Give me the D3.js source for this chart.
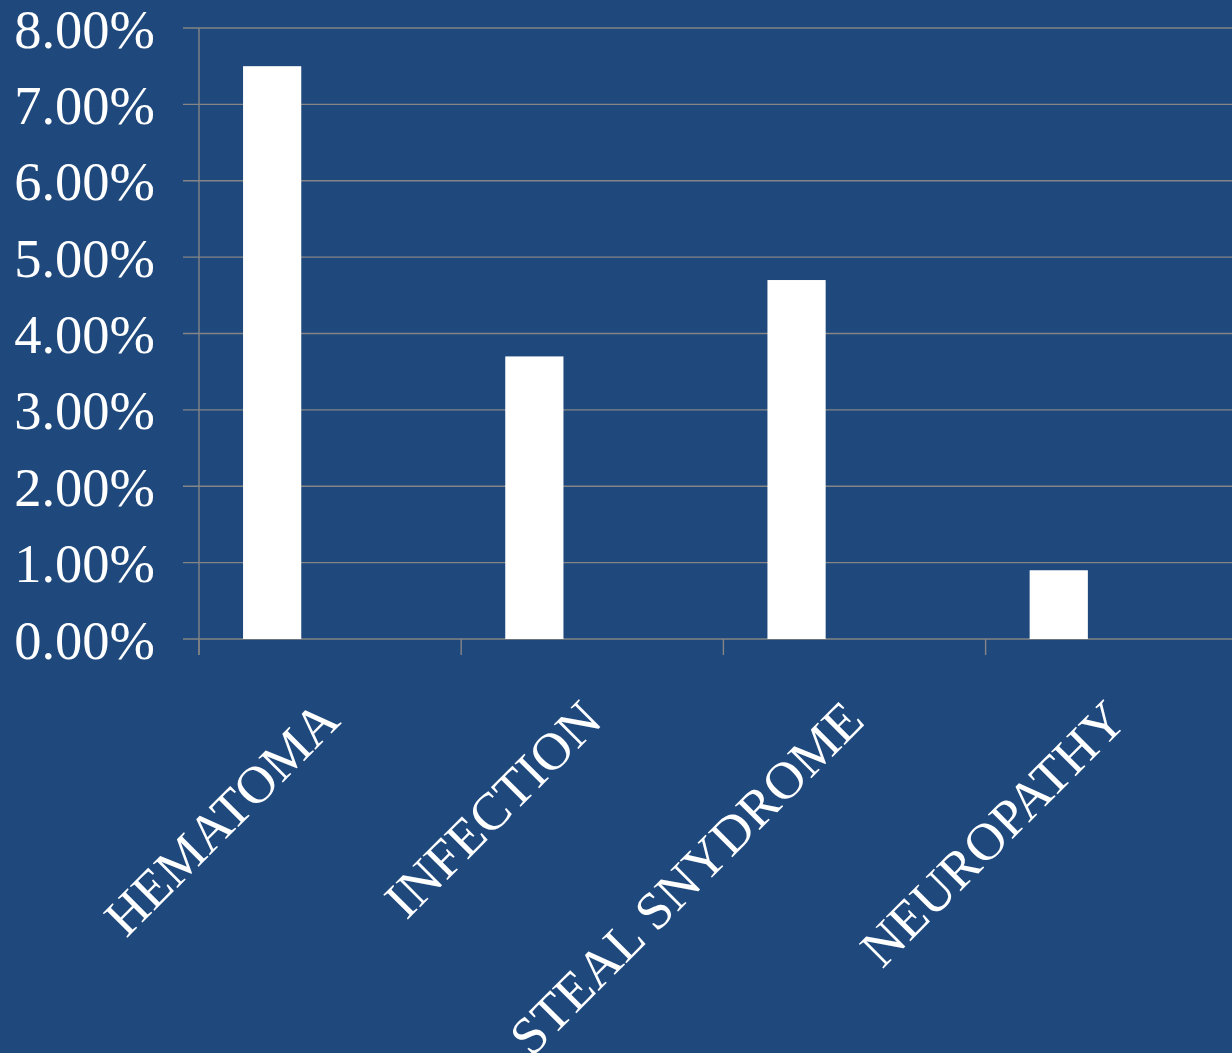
<!DOCTYPE html>
<html>
<head>
<meta charset="utf-8">
<script src="https://cdn.jsdelivr.net/npm/d3@7"></script>
<style>
  html, body { margin: 0; padding: 0; background: #1F497D; }
  svg { display: block; }
</style>
</head>
<body>
<svg id="chart" width="1232" height="1053"></svg>
<script>
const categories = ["HEMATOMA", "INFECTION", "STEAL SNYDROME", "NEUROPATHY"];
const values = [0.075, 0.037, 0.047, 0.009];
const yTicks = [0, 0.01, 0.02, 0.03, 0.04, 0.05, 0.06, 0.07, 0.08];

const W = 1232, H = 1053;
const svg = d3.select("#chart");
svg.append("rect").attr("width", W).attr("height", H).attr("fill", "#1F497D");

const left = 199, bandW = 262.2;
const x = d3.scaleBand().domain(categories).range([left, left + bandW * categories.length]).padding(0);
const y = d3.scaleLinear().domain([0, 0.08]).range([639, 28]);

const gridColor = "#858585";
const font = "'Liberation Serif', 'Times New Roman', serif";

// gridlines
svg.append("g").selectAll("line").data(yTicks).join("line")
  .attr("x1", left - 16).attr("x2", W)
  .attr("y1", d => y(d)).attr("y2", d => y(d))
  .attr("stroke", gridColor).attr("stroke-width", 1.4);

// y axis line
svg.append("line").attr("x1", left).attr("x2", left)
  .attr("y1", y(0.08)).attr("y2", y(0) + 16)
  .attr("stroke", gridColor).attr("stroke-width", 1.4);

// category tick marks at band boundaries
const bounds = categories.map(c => x(c)).concat([x(categories[categories.length - 1]) + x.bandwidth()]);
svg.append("g").selectAll("line").data(bounds).join("line")
  .attr("x1", d => d).attr("x2", d => d)
  .attr("y1", y(0)).attr("y2", y(0) + 16)
  .attr("stroke", gridColor).attr("stroke-width", 1.4);

// y labels
const fmt = d3.format(".2%");
svg.append("g").selectAll("text").data(yTicks).join("text")
  .attr("x", 155).attr("y", d => y(d))
  .attr("dy", "0.36em")
  .attr("text-anchor", "end")
  .attr("fill", "#ffffff")
  .style("font-family", font).style("font-size", "54.5px")
  .text(d => fmt(d));

// bars
const bw = x.bandwidth();
svg.append("g").selectAll("rect").data(categories).join("rect")
  .attr("x", (d) => x(d) + bw * 0.168)
  .attr("width", bw * 0.222)
  .attr("y", (d, i) => y(values[i]))
  .attr("height", (d, i) => y(0) - y(values[i]))
  .attr("fill", "#ffffff");

// x labels
svg.append("g").selectAll("text").data(categories).join("text")
  .attr("transform", d => `translate(${x(d) + bw / 2 + 12},723) rotate(-45)`)
  .attr("text-anchor", "end")
  .attr("fill", "#ffffff")
  .style("font-family", font).style("font-size", "53px")
  .text(d => d);
</script>
</body>
</html>
